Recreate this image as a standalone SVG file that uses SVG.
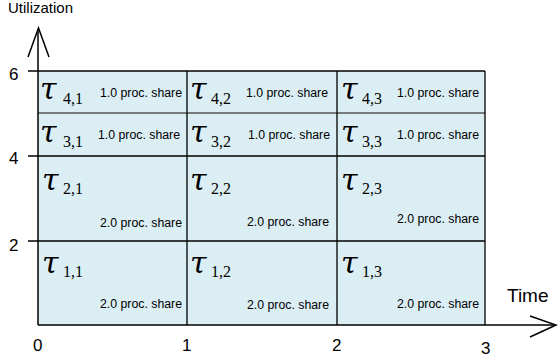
<svg xmlns="http://www.w3.org/2000/svg" width="558" height="362" viewBox="0 0 558 362">
<style>
.cell{fill:#dbeef4;stroke:none}
.grid{stroke:#000;stroke-width:1.3;fill:none}
.grid2{stroke:#555;stroke-width:1.3;fill:none}
.ax{stroke:#000;stroke-width:1.5;fill:none}
.tau{font-family:"DejaVu Serif",serif;font-style:italic;font-size:30px;fill:#000}
.sub{font-family:"Liberation Serif",serif;font-size:16px;fill:#000}
.sh{font-family:"Liberation Sans",sans-serif;font-size:12.3px;fill:#000;text-anchor:end}
.lab{font-family:"Liberation Sans",sans-serif;fill:#000}
</style>
<rect class="cell" x="38" y="71" width="447" height="254"/>
<g id="grid">
<line class="grid" x1="28" y1="71" x2="485" y2="71"/>
<line class="grid2" x1="38" y1="113" x2="485" y2="113"/>
<line class="grid" x1="28" y1="156" x2="485" y2="156"/>
<line class="grid" x1="28" y1="241" x2="485" y2="241"/>
<line class="grid" x1="187" y1="71" x2="187" y2="325"/>
<line class="grid" x1="337" y1="71" x2="337" y2="325"/>
<line class="grid" x1="485" y1="71" x2="485" y2="325"/>
</g>
<g id="t41"><text class="tau" x="40" y="99">τ</text><text class="sub" x="63" y="104">4,1</text><text class="sh" x="182" y="97">1.0 proc. share</text></g>
<g id="t42"><text class="tau" x="190" y="99">τ</text><text class="sub" x="211" y="104">4,2</text><text class="sh" x="328" y="97">1.0 proc. share</text></g>
<g id="t43"><text class="tau" x="341" y="99">τ</text><text class="sub" x="362" y="104">4,3</text><text class="sh" x="479" y="97">1.0 proc. share</text></g>
<g id="t31"><text class="tau" x="40" y="142">τ</text><text class="sub" x="63" y="147">3,1</text><text class="sh" x="180" y="139">1.0 proc. share</text></g>
<g id="t32"><text class="tau" x="190" y="142">τ</text><text class="sub" x="211" y="147">3,2</text><text class="sh" x="330" y="139">1.0 proc. share</text></g>
<g id="t33"><text class="tau" x="341" y="142">τ</text><text class="sub" x="362" y="147">3,3</text><text class="sh" x="479" y="139">1.0 proc. share</text></g>
<g id="t21"><text class="tau" x="42" y="190">τ</text><text class="sub" x="63" y="194">2,1</text><text class="sh" x="182" y="227">2.0 proc. share</text></g>
<g id="t22"><text class="tau" x="190" y="190">τ</text><text class="sub" x="211" y="194">2,2</text><text class="sh" x="329" y="226">2.0 proc. share</text></g>
<g id="t23"><text class="tau" x="341" y="190">τ</text><text class="sub" x="362" y="194">2,3</text><text class="sh" x="479" y="223">2.0 proc. share</text></g>
<g id="t11"><text class="tau" x="42" y="273">τ</text><text class="sub" x="63" y="277">1,1</text><text class="sh" x="182" y="308">2.0 proc. share</text></g>
<g id="t12"><text class="tau" x="190" y="273">τ</text><text class="sub" x="211" y="277">1,2</text><text class="sh" x="329" y="309">2.0 proc. share</text></g>
<g id="t13"><text class="tau" x="341" y="273">τ</text><text class="sub" x="362" y="277">1,3</text><text class="sh" x="479" y="308">2.0 proc. share</text></g>
<g id="axes">
<line class="ax" x1="38" y1="325" x2="38" y2="29"/>
<polyline class="ax" points="28,57 38.5,28 49,57"/>
<line class="ax" x1="38" y1="325" x2="555" y2="325"/>
<polyline class="ax" points="530,316 556,325 530,337"/>
</g>
<g id="labels">
<text class="lab" x="8" y="13" font-size="15">Utilization</text>
<text class="lab" x="507" y="302" font-size="19">Time</text>
<text class="lab" x="9" y="80" font-size="17">6</text>
<text class="lab" x="9" y="164" font-size="17">4</text>
<text class="lab" x="9" y="251" font-size="17">2</text>
<text class="lab" x="33" y="351" font-size="17">0</text>
<text class="lab" x="182" y="351" font-size="17">1</text>
<text class="lab" x="332" y="351" font-size="17">2</text>
<text class="lab" x="481" y="354" font-size="17">3</text>
</g>
</svg>
